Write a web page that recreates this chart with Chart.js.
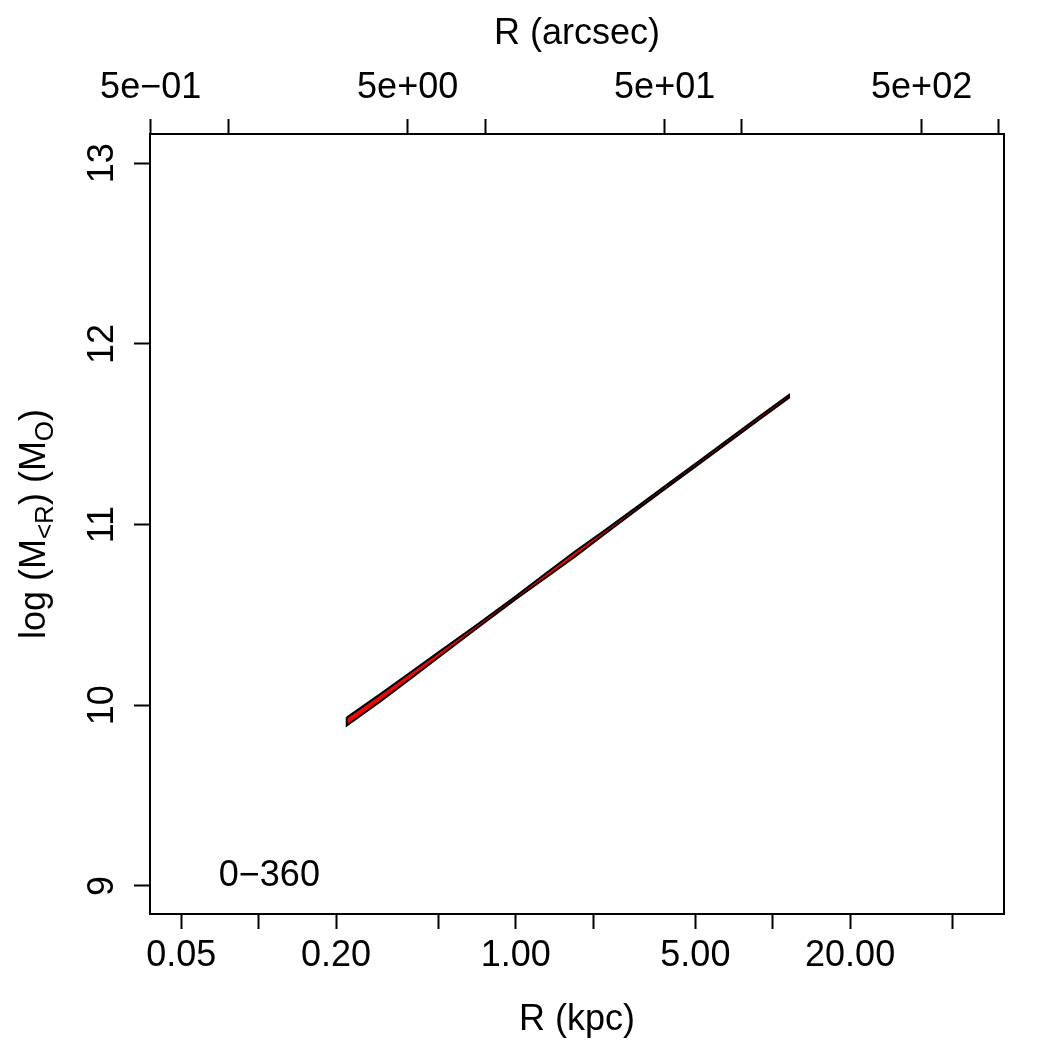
<!DOCTYPE html>
<html>
<head>
<meta charset="utf-8">
<script src="https://cdn.jsdelivr.net/npm/chart.js@4"></script>
<style>
html,body{margin:0;padding:0;background:#fff;}
#wrap{width:1050px;height:1050px;}
</style>
</head>
<body>
<div id="wrap"><canvas id="c" width="1050" height="1050"></canvas></div>
<script>
// ---- data ----
const radiusKpc     = [0.22, 0.3, 0.4, 0.5, 0.7, 1.0, 1.3, 1.7, 2.2, 3, 4, 5, 7, 9, 11.57];
const logMassUpper  = [9.932, 10.066, 10.194, 10.293, 10.442, 10.603, 10.727, 10.851, 10.964, 11.104, 11.235, 11.337, 11.490, 11.605, 11.718];
const logMassLower  = [9.888, 10.026, 10.160, 10.265, 10.422, 10.587, 10.703, 10.823, 10.944, 11.088, 11.219, 11.321, 11.474, 11.589, 11.702];

const kpcTickValues    = [0.05, 0.1, 0.2, 0.5, 1, 2, 5, 10, 20, 50];
const kpcTickLabels    = ['0.05', '', '0.20', '', '1.00', '', '5.00', '', '20.00', ''];
const arcsecTickValues = [0.5, 1, 5, 10, 50, 100, 500, 1000];
const arcsecTickLabels = ['5e\u221201', '', '5e+00', '', '5e+01', '', '5e+02', ''];
const yTickValues      = [9, 10, 11, 12, 13];
const yTickLabels      = ['9', '10', '11', '12', '13'];

const kpcRange    = [0.03776, 79.4];
const arcsecRange = [0.497, 1046];
const yRange      = [8.845, 13.162];

const panelLabel = '0\u2212360';
const panelLabelPos = [0.11, 9.0];

// polygon outline: upper forward, lower backward
const band = [];
radiusKpc.forEach((r, i) => band.push({x: r, y: logMassUpper[i]}));
for (let i = radiusKpc.length - 1; i >= 0; i--) band.push({x: radiusKpc[i], y: logMassLower[i]});
band.push({x: radiusKpc[0], y: logMassUpper[0]});

const FONT = '"Liberation Sans", Arial, Helvetica, sans-serif';

const textPlugin = {
  id: 'textPlugin',
  afterDraw(chart) {
    const ctx = chart.ctx;
    const ca = chart.chartArea;
    const ys = chart.scales.y;
    const xs = chart.scales.x;
    ctx.save();
    // box
    ctx.strokeStyle = '#000';
    ctx.lineWidth = 2;
    ctx.strokeRect(ca.left, ca.top, ca.right - ca.left, ca.bottom - ca.top);
    ctx.fillStyle = '#000';
    // y tick labels rotated
    ctx.font = '36px ' + FONT;
    ctx.textAlign = 'center';
    ctx.textBaseline = 'alphabetic';
    yTickValues.forEach((v, i) => {
      const py = ys.getPixelForValue(v);
      ctx.save();
      ctx.translate(113, py);
      ctx.rotate(-Math.PI / 2);
      ctx.fillText(yTickLabels[i], 0, 0);
      ctx.restore();
    });
    // axis titles
    const cx = (ca.left + ca.right) / 2;
    ctx.fillText('R (kpc)', cx, 1030);
    ctx.fillText('R (arcsec)', cx, 44);
    // y title with subscripts
    const parts = [
      {t: 'log (M', s: 36, dy: 0},
      {t: '<R', s: 26, dy: 8},
      {t: ') (M', s: 36, dy: 0},
      {t: 'O', s: 26, dy: 8},
      {t: ')', s: 36, dy: 0}
    ];
    let total = 0;
    parts.forEach(p => { ctx.font = p.s + 'px ' + FONT; p.w = ctx.measureText(p.t).width; total += p.w; });
    ctx.save();
    ctx.translate(45, (ca.top + ca.bottom) / 2);
    ctx.rotate(-Math.PI / 2);
    ctx.textAlign = 'left';
    let px = -total / 2;
    parts.forEach(p => {
      ctx.font = p.s + 'px ' + FONT;
      ctx.fillText(p.t, px, p.dy);
      px += p.w;
    });
    ctx.restore();
    // panel label
    ctx.font = '36px ' + FONT;
    ctx.textAlign = 'center';
    ctx.fillText(panelLabel, xs.getPixelForValue(panelLabelPos[0]), ys.getPixelForValue(panelLabelPos[1]));
    ctx.restore();
  }
};

function fixedTicks(values) {
  return function(scale) { scale.ticks = values.map(v => ({value: v})); };
}

new Chart(document.getElementById('c'), {
  type: 'scatter',
  data: {
    datasets: [{
      data: band,
      showLine: true,
      fill: 'shape',
      backgroundColor: '#ff0000',
      borderColor: '#000000',
      borderWidth: 2,
      pointRadius: 0,
      tension: 0,
      xAxisID: 'x',
      yAxisID: 'y'
    }]
  },
  options: {
    responsive: false,
    animation: false,
    devicePixelRatio: 1,
    layout: {padding: {right: 46, left: 0, top: 0, bottom: 0}},
    plugins: {legend: {display: false}, tooltip: {enabled: false}},
    scales: {
      x: {
        type: 'logarithmic',
        position: 'bottom',
        min: kpcRange[0], max: kpcRange[1],
        afterBuildTicks: fixedTicks(kpcTickValues),
        afterFit(s) { s.height = 136; },
        border: {display: false},
        grid: {drawOnChartArea: false, drawTicks: true, tickLength: 15, tickColor: '#000', tickWidth: 2},
        ticks: {
          autoSkip: false, maxRotation: 0, minRotation: 0, padding: 5,
          color: '#000', font: {size: 36, family: FONT},
          callback: (v, i) => kpcTickLabels[i]
        }
      },
      x2: {
        type: 'logarithmic',
        position: 'top',
        min: arcsecRange[0], max: arcsecRange[1],
        afterBuildTicks: fixedTicks(arcsecTickValues),
        afterFit(s) { s.height = 134; },
        border: {display: false},
        grid: {drawOnChartArea: false, drawTicks: true, tickLength: 15, tickColor: '#000', tickWidth: 2},
        ticks: {
          autoSkip: false, maxRotation: 0, minRotation: 0, padding: 9,
          color: '#000', font: {size: 36, family: FONT},
          callback: (v, i) => arcsecTickLabels[i]
        }
      },
      y: {
        type: 'linear',
        position: 'left',
        min: yRange[0], max: yRange[1],
        afterBuildTicks: fixedTicks(yTickValues),
        afterFit(s) { s.width = 150; },
        border: {display: false},
        grid: {drawOnChartArea: false, drawTicks: true, tickLength: 16, tickColor: '#000', tickWidth: 2},
        ticks: {display: false}
      }
    }
  },
  plugins: [textPlugin]
});
</script>
</body>
</html>
